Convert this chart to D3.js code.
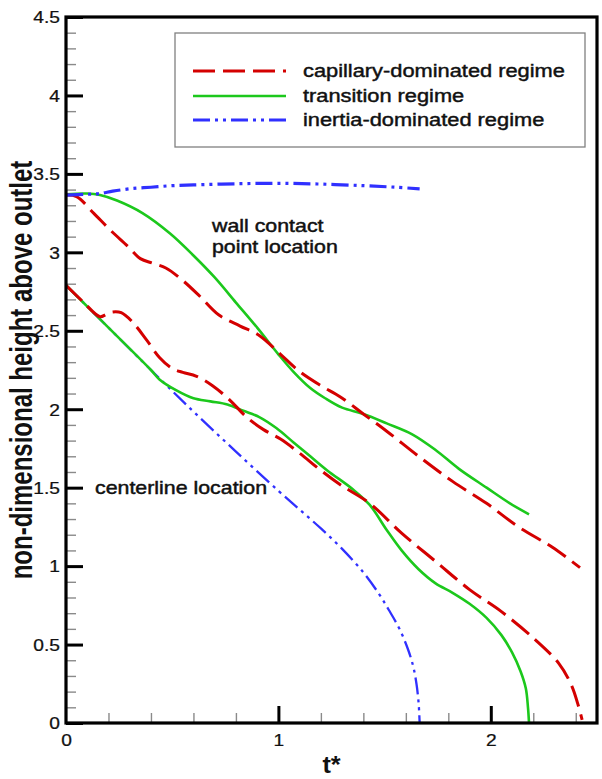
<!DOCTYPE html>
<html>
<head>
<meta charset="utf-8">
<script src="https://cdn.jsdelivr.net/npm/d3@7"></script>
<style>
  html, body { margin: 0; padding: 0; background: #fff; }
  svg { display: block; font-family: "Liberation Sans", Arial, sans-serif; }
</style>
</head>
<body>
<div id="chart"></div>
<script>
// ---------- data ----------
const seriesNames = ["capillary-dominated regime", "transition regime", "inertia-dominated regime"];

// capillary-dominated regime
const capWallT   = [0, 0.05, 0.13, 0.21, 0.29, 0.35, 0.41, 0.47, 0.55, 0.63, 0.72, 0.82, 0.91, 1.01, 1.10, 1.20, 1.29, 1.40, 1.51, 1.66, 1.82, 1.98, 2.13, 2.29, 2.42];
const capWallH   = [3.365, 3.355, 3.25, 3.14, 3.04, 2.96, 2.93, 2.90, 2.82, 2.72, 2.60, 2.53, 2.47, 2.35, 2.24, 2.15, 2.08, 1.97, 1.86, 1.70, 1.54, 1.40, 1.25, 1.12, 0.99];
const capCenterT = [0, 0.08, 0.16, 0.19, 0.22, 0.26, 0.31, 0.38, 0.44, 0.50, 0.55, 0.615, 0.69, 0.77, 0.85, 0.93, 1.01, 1.10, 1.20, 1.29, 1.43, 1.58, 1.74, 1.90, 2.05, 2.21, 2.32, 2.38, 2.41, 2.43];
const capCenterH = [2.79, 2.685, 2.59, 2.605, 2.62, 2.615, 2.56, 2.44, 2.33, 2.26, 2.235, 2.21, 2.15, 2.06, 1.95, 1.87, 1.81, 1.72, 1.61, 1.52, 1.40, 1.21, 1.03, 0.85, 0.71, 0.53, 0.38, 0.24, 0.12, 0.02];

// transition regime
const traWallT   = [0, 0.1, 0.16, 0.24, 0.36, 0.49, 0.60, 0.70, 0.80, 0.90, 1.0, 1.07, 1.15, 1.22, 1.30, 1.40, 1.51, 1.63, 1.74, 1.85, 1.98, 2.09, 2.18];
const traWallH   = [3.37, 3.375, 3.365, 3.33, 3.25, 3.12, 2.98, 2.84, 2.68, 2.52, 2.35, 2.24, 2.135, 2.07, 2.01, 1.97, 1.91, 1.84, 1.74, 1.62, 1.50, 1.40, 1.33];
const traCenterT = [0, 0.2, 0.4, 0.44, 0.52, 0.60, 0.68, 0.76, 0.835, 0.91, 0.99, 1.07, 1.15, 1.23, 1.35, 1.43, 1.51, 1.58, 1.66, 1.74, 1.82, 1.90, 1.98, 2.05, 2.10, 2.14, 2.165, 2.175, 2.18];
const traCenterH = [2.79, 2.52, 2.25, 2.19, 2.12, 2.07, 2.05, 2.03, 1.99, 1.95, 1.88, 1.79, 1.70, 1.61, 1.49, 1.39, 1.23, 1.10, 0.98, 0.89, 0.83, 0.76, 0.67, 0.56, 0.45, 0.33, 0.22, 0.10, 0.0];

// inertia-dominated regime
const ineWallT   = [0, 0.1, 0.16, 0.22, 0.3, 0.4, 0.5, 0.6, 0.8, 1.0, 1.2, 1.4, 1.55, 1.665];
const ineWallH   = [3.365, 3.37, 3.375, 3.39, 3.405, 3.415, 3.425, 3.43, 3.437, 3.44, 3.435, 3.425, 3.415, 3.405];
const ineCenterT = [0, 0.2, 0.4, 0.6, 0.8, 1.0, 1.1, 1.2, 1.3, 1.4, 1.47, 1.52, 1.57, 1.61, 1.635, 1.65, 1.66, 1.665];
const ineCenterH = [2.79, 2.52, 2.25, 1.985, 1.73, 1.48, 1.36, 1.24, 1.11, 0.96, 0.83, 0.72, 0.60, 0.47, 0.36, 0.25, 0.13, 0.0];

// axis ticks
const xTickLabels = [0, 1, 2];
const yTickLabels = [0, 0.5, 1, 1.5, 2, 2.5, 3, 3.5, 4, 4.5];
const xTitle = "t*";
const yTitle = "non-dimensional height above outlet";
const annotWall = ["wall contact", "point location"];
const annotCenter = "centerline location";

// ---------- layout ----------
const W = 602, H = 779;
const L = 66, R = 597, T = 17, B = 723;
const SX = 1.2; // horizontal stretch of the lettering in the reference

const svg = d3.select("#chart").append("svg").attr("width", W).attr("height", H);
svg.append("rect").attr("width", W).attr("height", H).attr("fill", "#fff");

const x = d3.scaleLinear().domain([0, 2.5]).range([L, R]);
const y = d3.scaleLinear().domain([0, 4.5]).range([B, T]);

const styles = {
  cap: { color: "#d40000", width: 3, dash: "22,8" },
  tra: { color: "#1cc81c", width: 2.6, dash: null },
  ine: { color: "#3030ff", width: 3.2, dash: "17,5,3,5,3,5" }
};

// ---------- minor / major ticks (inward) ----------
const minorY = d3.range(0, 4.5001, 0.1).filter(v => Math.abs(v*2 - Math.round(v*2)) > 1e-6);
const minorX = d3.range(0, 2.5001, 0.2).filter(v => Math.abs(v - Math.round(v)) > 1e-6);

svg.append("g").attr("transform", `translate(${L},0)`)
  .call(d3.axisLeft(y).tickValues(minorY).tickSize(-10).tickFormat(""))
  .call(g => g.select(".domain").remove())
  .call(g => g.selectAll("line").attr("stroke", "#8a8a8a").attr("stroke-width", 1.4));
svg.append("g").attr("transform", `translate(0,${B})`)
  .call(d3.axisBottom(x).tickValues(minorX).tickSize(-10).tickFormat(""))
  .call(g => g.select(".domain").remove())
  .call(g => g.selectAll("line").attr("stroke", "#8a8a8a").attr("stroke-width", 1.4));

const yAx = svg.append("g").attr("transform", `translate(${L},0)`)
  .call(d3.axisLeft(y).tickValues(yTickLabels).tickSize(-17).tickPadding(0).tickFormat(d => String(d)))
  .call(g => g.select(".domain").remove());
yAx.selectAll("line").attr("stroke", "#000").attr("stroke-width", 3);
yAx.selectAll("text")
  .attr("font-family", "'Liberation Sans', Arial, sans-serif")
  .attr("font-size", 16).attr("fill", "#111")
  .attr("stroke", "#111").attr("stroke-width", 0.25)
  .attr("x", null).attr("dy", null)
  .attr("transform", `translate(-6,5.8) scale(${SX},1)`);

const xAx = svg.append("g").attr("transform", `translate(0,${B})`)
  .call(d3.axisBottom(x).tickValues(xTickLabels).tickSize(-17).tickPadding(0).tickFormat(d => String(d)))
  .call(g => g.select(".domain").remove());
xAx.selectAll("line").attr("stroke", "#000").attr("stroke-width", 3);
xAx.selectAll("line").filter(d => d === 0).remove();
xAx.selectAll("text")
  .attr("font-family", "'Liberation Sans', Arial, sans-serif")
  .attr("font-size", 16).attr("fill", "#111")
  .attr("stroke", "#111").attr("stroke-width", 0.25)
  .attr("y", null).attr("dy", null)
  .attr("transform", `translate(0,22.5) scale(${SX},1)`);

// ---------- curves ----------
const line = d3.line().x(d => x(d[0])).y(d => y(d[1])).curve(d3.curveCatmullRom.alpha(0.5));
const zipPts = (ts, hs) => ts.map((t, i) => [t, hs[i]]);

const curves = [
  { pts: zipPts(ineCenterT, ineCenterH), s: styles.ine, w: 2.3 },
  { pts: zipPts(traCenterT, traCenterH), s: styles.tra },
  { pts: zipPts(capCenterT, capCenterH), s: styles.cap },
  { pts: zipPts(traWallT, traWallH), s: styles.tra },
  { pts: zipPts(capWallT, capWallH), s: styles.cap },
  { pts: zipPts(ineWallT, ineWallH), s: styles.ine }
];
const plotG = svg.append("g");
curves.forEach(c => {
  plotG.append("path").attr("d", line(c.pts))
    .attr("fill", "none")
    .attr("stroke", c.s.color)
    .attr("stroke-width", c.w || c.s.width)
    .attr("stroke-dasharray", c.s.dash)
    .attr("stroke-linejoin", "round");
});

// ---------- frame ----------
svg.append("rect").attr("x", L).attr("y", T).attr("width", R - L).attr("height", B - T)
  .attr("fill", "none").attr("stroke", "#000").attr("stroke-width", 3.2);

// ---------- text helper ----------
function stext(g, px, py, str, size, weight, anchor, sx, sw) {
  const t = g.append("text")
    .attr("transform", `translate(${px},${py}) scale(${sx || SX},1)`)
    .attr("font-size", size).attr("font-weight", weight || "normal")
    .attr("text-anchor", anchor || "start").attr("fill", "#111")
    .text(str);
  if (sw) t.attr("stroke", "#111").attr("stroke-width", sw);
  return t;
}

// ---------- legend ----------
const leg = svg.append("g");
leg.append("rect").attr("x", 175).attr("y", 33).attr("width", 410).attr("height", 114)
  .attr("fill", "#fff").attr("stroke", "#808080").attr("stroke-width", 1.3);
const legStyles = [styles.cap, styles.tra, styles.ine];
const legRows = [71, 96, 120];
seriesNames.forEach((name, i) => {
  const s = legStyles[i];
  leg.append("line").attr("x1", 193).attr("x2", 286).attr("y1", legRows[i]).attr("y2", legRows[i])
    .attr("stroke", s.color).attr("stroke-width", s.width).attr("stroke-dasharray", s.dash);
  stext(leg, 303, legRows[i] + 5.5, name, 18.5, "normal", "start", 1.18, 0.45);
});

// ---------- annotations ----------
stext(svg, 212, 232, annotWall[0], 17.5, "normal", "start", 1.22, 0.45);
stext(svg, 212, 253, annotWall[1], 17.5, "normal", "start", 1.22, 0.45);
stext(svg, 95, 494, annotCenter, 17.5, "normal", "start", 1.22, 0.45);

// ---------- axis titles ----------
svg.append("text")
  .attr("transform", `translate(32,${(T + B) / 2}) rotate(-90) scale(1,1.3)`)
  .attr("text-anchor", "middle").attr("font-size", 24).attr("font-weight", "bold").attr("fill", "#111")
  .text(yTitle);
stext(svg, (L + R) / 2, 773, xTitle, 23, "bold", "middle", 1.1);
</script>
</body>
</html>
